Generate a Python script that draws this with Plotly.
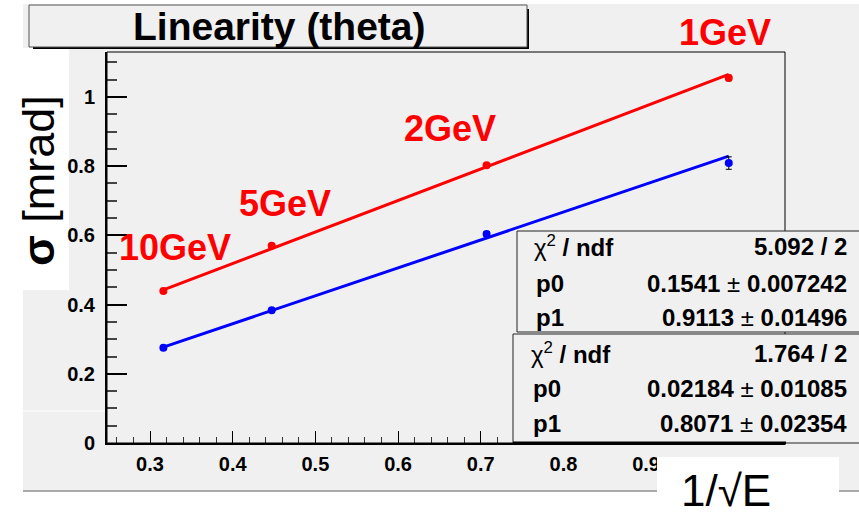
import plotly.graph_objects as go

# ---------------- data ----------------
energies = ["10GeV", "5GeV", "2GeV", "1GeV"]
inv_sqrt_e = [0.3162, 0.4472, 0.7071, 1.0]
sigma_red = [0.439, 0.570, 0.803, 1.055]
err_red = [0.004, 0.004, 0.005, 0.008]
sigma_blue = [0.275, 0.384, 0.604, 0.809]
err_blue = [0.004, 0.005, 0.007, 0.018]

fit_red = {"chi2": "5.092 / 2", "p0": 0.1541, "p0e": "0.007242", "p1": 0.9113, "p1e": "0.01496"}
fit_blue = {"chi2": "1.764 / 2", "p0": 0.02184, "p0e": "0.01085", "p1": 0.8071, "p1e": "0.02354"}
fit_red_txt = ["0.1541", "0.9113"]
fit_blue_txt = ["0.02184", "0.8071"]

x_ticks = [0.3, 0.4, 0.5, 0.6, 0.7, 0.8, 0.9, 1.0]
y_ticks = [0, 0.2, 0.4, 0.6, 0.8, 1.0]

# ---------------- geometry ----------------
W, H = 859, 517
L, R, T, B = 107, 785, 52, 443
FONT = "Liberation Sans, Arial, Helvetica, sans-serif"
GRAY = "#f0f0f0"


def px(x):
    return (x - L) / (R - L)


def py(y):
    return (B - y) / (B - T)


fig = go.Figure()

# fit lines
xf = [inv_sqrt_e[0], inv_sqrt_e[-1]]
fig.add_trace(go.Scatter(x=xf, y=[fit_red["p0"] + fit_red["p1"] * v for v in xf], mode="lines",
                         line=dict(color="#ff0000", width=3), hoverinfo="skip", showlegend=False))
fig.add_trace(go.Scatter(x=xf, y=[fit_blue["p0"] + fit_blue["p1"] * v for v in xf], mode="lines",
                         line=dict(color="#0000ff", width=3), hoverinfo="skip", showlegend=False))
# data points
fig.add_trace(go.Scatter(x=inv_sqrt_e, y=sigma_red, mode="markers",
                         marker=dict(color="#ff0000", size=8),
                         error_y=dict(type="data", array=err_red, color="black", thickness=1, width=3),
                         showlegend=False))
fig.add_trace(go.Scatter(x=inv_sqrt_e, y=sigma_blue, mode="markers",
                         marker=dict(color="#0000ff", size=8),
                         error_y=dict(type="data", array=err_blue, color="black", thickness=1, width=3),
                         showlegend=False))

shapes = []
# canvas gray
shapes.append(dict(type="rect", xref="paper", yref="paper", x0=px(23), x1=px(870), y0=py(491), y1=py(4),
                   fillcolor=GRAY, line=dict(width=0), layer="below"))
shapes.append(dict(type="line", xref="paper", yref="paper", x0=px(23), x1=px(870), y0=py(491), y1=py(491),
                   line=dict(color="#aaaaaa", width=2), layer="below"))
shapes.append(dict(type="line", xref="paper", yref="paper", x0=px(23), x1=px(106), y0=py(411), y1=py(411),
                   line=dict(color="white", width=1), layer="below"))
# y title white box
shapes.append(dict(type="rect", xref="paper", yref="paper", x0=px(23), x1=px(69), y0=py(290), y1=py(48),
                   fillcolor="white", line=dict(width=0), layer="below"))
# title box + shadow
shapes.append(dict(type="line", xref="paper", yref="paper", x0=px(33), x1=px(529), y0=py(48), y1=py(48),
                   line=dict(color="black", width=2), layer="below"))
shapes.append(dict(type="line", xref="paper", yref="paper", x0=px(528), x1=px(528), y0=py(48), y1=py(9),
                   line=dict(color="black", width=2), layer="below"))
shapes.append(dict(type="rect", xref="paper", yref="paper", x0=px(29), x1=px(527), y0=py(47), y1=py(5),
                   fillcolor=GRAY, line=dict(color="#555555", width=1), layer="below"))
# frame
shapes.append(dict(type="rect", xref="paper", yref="paper", x0=0, x1=1, y0=0, y1=1,
                   line=dict(color="black", width=1), layer="above"))
# stats boxes
shapes.append(dict(type="rect", xref="paper", yref="paper", x0=px(517), x1=px(875), y0=py(332), y1=py(231),
                   fillcolor=GRAY, line=dict(color="#222222", width=1), layer="above"))
shapes.append(dict(type="rect", xref="paper", yref="paper", x0=px(513), x1=px(875), y0=py(443), y1=py(334),
                   fillcolor=GRAY, line=dict(color="#222222", width=1), layer="above"))
shapes.append(dict(type="line", xref="paper", yref="paper", x0=px(513), x1=px(786), y0=py(443), y1=py(443),
                   line=dict(color="black", width=3), layer="above"))
# x title white box
shapes.append(dict(type="rect", xref="paper", yref="paper", x0=px(657), x1=px(839), y0=py(520), y1=py(457),
                   fillcolor="white", line=dict(width=0), layer="above"))

ann = []


def text(x, y, s, size, color="black", xa="center", ya="middle", angle=0):
    ann.append(dict(x=px(x), y=py(y), xref="paper", yref="paper", text=s, showarrow=False,
                    xanchor=xa, yanchor=ya, textangle=angle, borderpad=0,
                    font=dict(family=FONT, size=size, color=color)))


text(279, 27, "<b>Linearity (theta)</b>", 39)
text(38, 181, "<b>σ</b> [mrad]", 45, angle=-90)
text(726, 490, "1/√E", 44)

for name, (xc, yc) in zip(energies, [(175, 247), (285, 203), (450, 128), (725, 33)]):
    text(xc, yc, "<b>%s</b>" % name, 36, color="#ff0000")

# stats box contents
SF = 24
for fit, txt, rows, xl in [(fit_red, fit_red_txt, [246, 283, 317], 533),
                           (fit_blue, fit_blue_txt, [353, 388, 423], 530)]:
    text(xl, rows[0], "χ<sup>2</sup><b> / ndf</b>", SF, xa="left")
    text(848, rows[0], "<b>%s</b>" % fit["chi2"], SF, xa="right")
    text(xl + 2, rows[1], "<b>p0</b>", SF, xa="left")
    text(848, rows[1], "<b>%s</b> ± <b>%s</b>" % (txt[0], fit["p0e"]), SF, xa="right")
    text(xl + 2, rows[2], "<b>p1</b>", SF, xa="left")
    text(848, rows[2], "<b>%s</b> ± <b>%s</b>" % (txt[1], fit["p1e"]), SF, xa="right")

fig.update_layout(
    width=W, height=H,
    margin=dict(l=L, r=W - R, t=T, b=H - B, pad=0),
    paper_bgcolor="white", plot_bgcolor=GRAY,
    shapes=shapes, annotations=ann, showlegend=False,
    xaxis=dict(range=[0.248, 1.068], tickvals=x_ticks, ticktext=[("%g" % v) for v in x_ticks],
               ticks="inside", ticklen=12, tickwidth=1, tickcolor="black",
               minor=dict(dtick=0.02, tick0=0.3, ticks="inside", ticklen=6, tickcolor="#333333"),
               showline=True, linecolor="black", linewidth=2, showgrid=False, zeroline=False,
               tickfont=dict(family=FONT, size=20, color="black", weight="bold"), ticklabelstandoff=2),
    yaxis=dict(range=[0, 1.13], tickvals=y_ticks, ticktext=[("%g" % v) for v in y_ticks],
               ticks="inside", ticklen=20, tickwidth=1.5, tickcolor="black",
               minor=dict(dtick=0.05, tick0=0, ticks="inside", ticklen=10, tickcolor="#444444"),
               showline=True, linecolor="black", linewidth=2, showgrid=False, zeroline=False,
               tickfont=dict(family=FONT, size=20, color="black", weight="bold"), ticklabelstandoff=6),
)

fig.write_html("out.html")
